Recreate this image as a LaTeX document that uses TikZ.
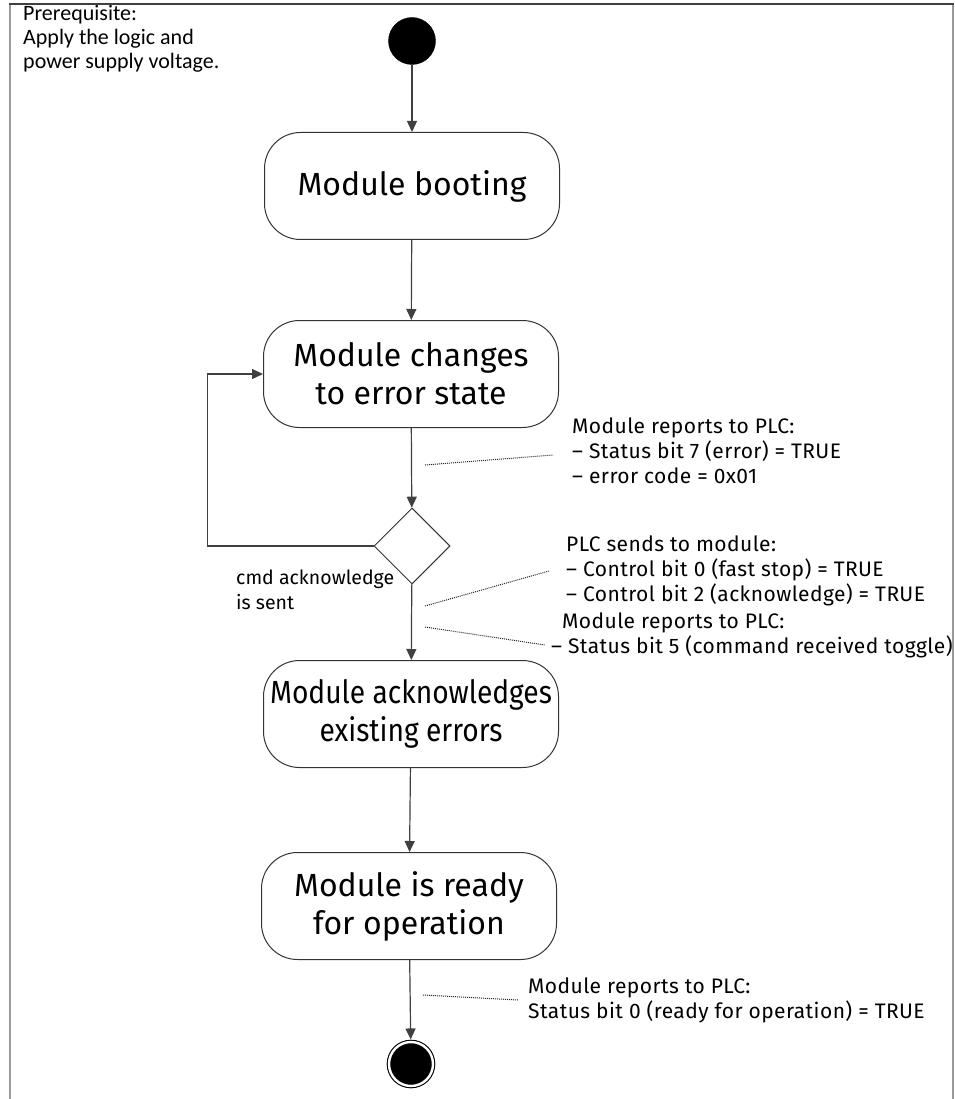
\documentclass[tikz,border=0pt]{standalone}
\usepackage{fontspec}
\usetikzlibrary{arrows.meta,shapes.geometric}
\newfontfamily\actfont{Fira Sans}
\newfontfamily\actnarrowfont[FakeStretch=0.88]{Fira Sans}
\newfontfamily\notefont[LetterSpace=2]{Fira Sans}
\newfontfamily\labelfont{Fira Sans}
\newfontfamily\prefont{Carlito}

\tikzset{
  act/.style={draw=black!80, line width=1pt, rounded corners=36pt,
    minimum width=295pt, minimum height=107pt, inner sep=0pt,
    align=center, font=\actfont\fontsize{32}{38}\selectfont},
  actnarrow/.style={act, font=\actnarrowfont\fontsize{32}{38}\selectfont},
  startnode/.style={circle, fill=black, draw=black, minimum size=47pt, inner sep=0pt},
  endnode/.style={circle, fill=black, draw=black, minimum size=44pt, inner sep=0pt,
    line width=1.1pt, double=white, double distance=2.4pt},
  decision/.style={diamond, draw=black!80, line width=1pt, minimum width=76pt,
    minimum height=76pt, inner sep=0pt, aspect=1},
  flow/.style={draw=black!75, line width=1.2pt, -{Triangle[width=10pt,length=11pt]}},
  note/.style={draw=black!85, line width=1pt, dash pattern=on 1pt off 1pt},
  annot/.style={anchor=base west, inner sep=0pt, align=left,
    font=\notefont\fontsize{21}{25}\selectfont},
  guard/.style={anchor=base west, inner sep=0pt, align=left,
    font=\labelfont\fontsize{19.5}{25}\selectfont},
  frametop/.style={draw=black!75, line width=2pt},
  frameside/.style={draw=black!40, line width=2pt},
}

\begin{document}
\begin{tikzpicture}[x=1pt, y=-1pt]
\useasboundingbox (0,0) rectangle (954,1099);

% outer frame
\draw[frameside] (10,4) -- (10,1099);
\draw[frameside] (953,4) -- (953,1099);
\draw[frametop] (9,4) -- (954,4);

% prerequisite note (anchored at the baseline of its last line)
\node[anchor=base west, inner sep=0pt, align=left,
  font=\prefont\fontsize{22}{24}\selectfont] (pre) at (23,69)
  {Prerequisite:\\Apply the logic and\\power supply voltage.};

% activity nodes
\node[startnode] (start) at (412,41) {};
\node[act] (boot) at (412,186) {Module booting};
\node[act] (err) at (411,374) {Module changes\\to error state};
\node[decision] (dec) at (412,546) {};
\node[actnarrow] (ack) at (411,714) {Module acknowledges\\existing errors};
\node[act] (ready) at (409,906) {Module is ready\\for operation};
\node[endnode] (end) at (411,1064) {};

% control flow
\draw[flow] (start) -- (boot);
\draw[flow] (boot) -- (err);
\draw[flow] (err) -- (dec);
\draw[flow] (dec.west) -- ++(-166,0) |- (err.west);
\draw[flow] (dec) -- (ack);
\draw[flow] (ack) -- (ready);
\draw[flow, shorten >=2pt] (ready) -- (end);

% guard of the decision (anchored at the baseline of its last line)
\node[guard] (n3) at (236,609) {cmd acknowledge\\is sent};

% annotations (anchored at the baseline of their last line)
\node[annot] (n1) at (572,483)
  {Module reports to PLC:\\– Status bit 7 (error) = TRUE\\– error code = 0x01};
\node[annot] (n2) at (566,601)
  {PLC sends to module:\\– Control bit 0 (fast stop) = TRUE\\– Control bit 2 (acknowledge) = TRUE};
\node[annot] (n4) at (551,653)
  {\hspace*{11pt}Module reports to PLC:\\– Status bit 5 (command received toggle)};
\node[annot] (n5) at (528,1018)
  {Module reports to PLC:\\Status bit 0 (ready for operation) = TRUE};

% dotted leaders from the flow lines to the notes
\coordinate (l1a) at (425,465);
\coordinate (l1b) at (553,455);
\coordinate (l2a) at (425,606);
\coordinate (l2b) at (549,571);
\coordinate (l3a) at (425,627);
\coordinate (l3b) at (545,645);
\coordinate (l4a) at (423,995);
\coordinate (l4b) at (518,1000);
\draw[note] (l1a) -- (l1b);
\draw[note] (l2a) -- (l2b);
\draw[note] (l3a) -- (l3b);
\draw[note] (l4a) -- (l4b);
\end{tikzpicture}
\end{document}
